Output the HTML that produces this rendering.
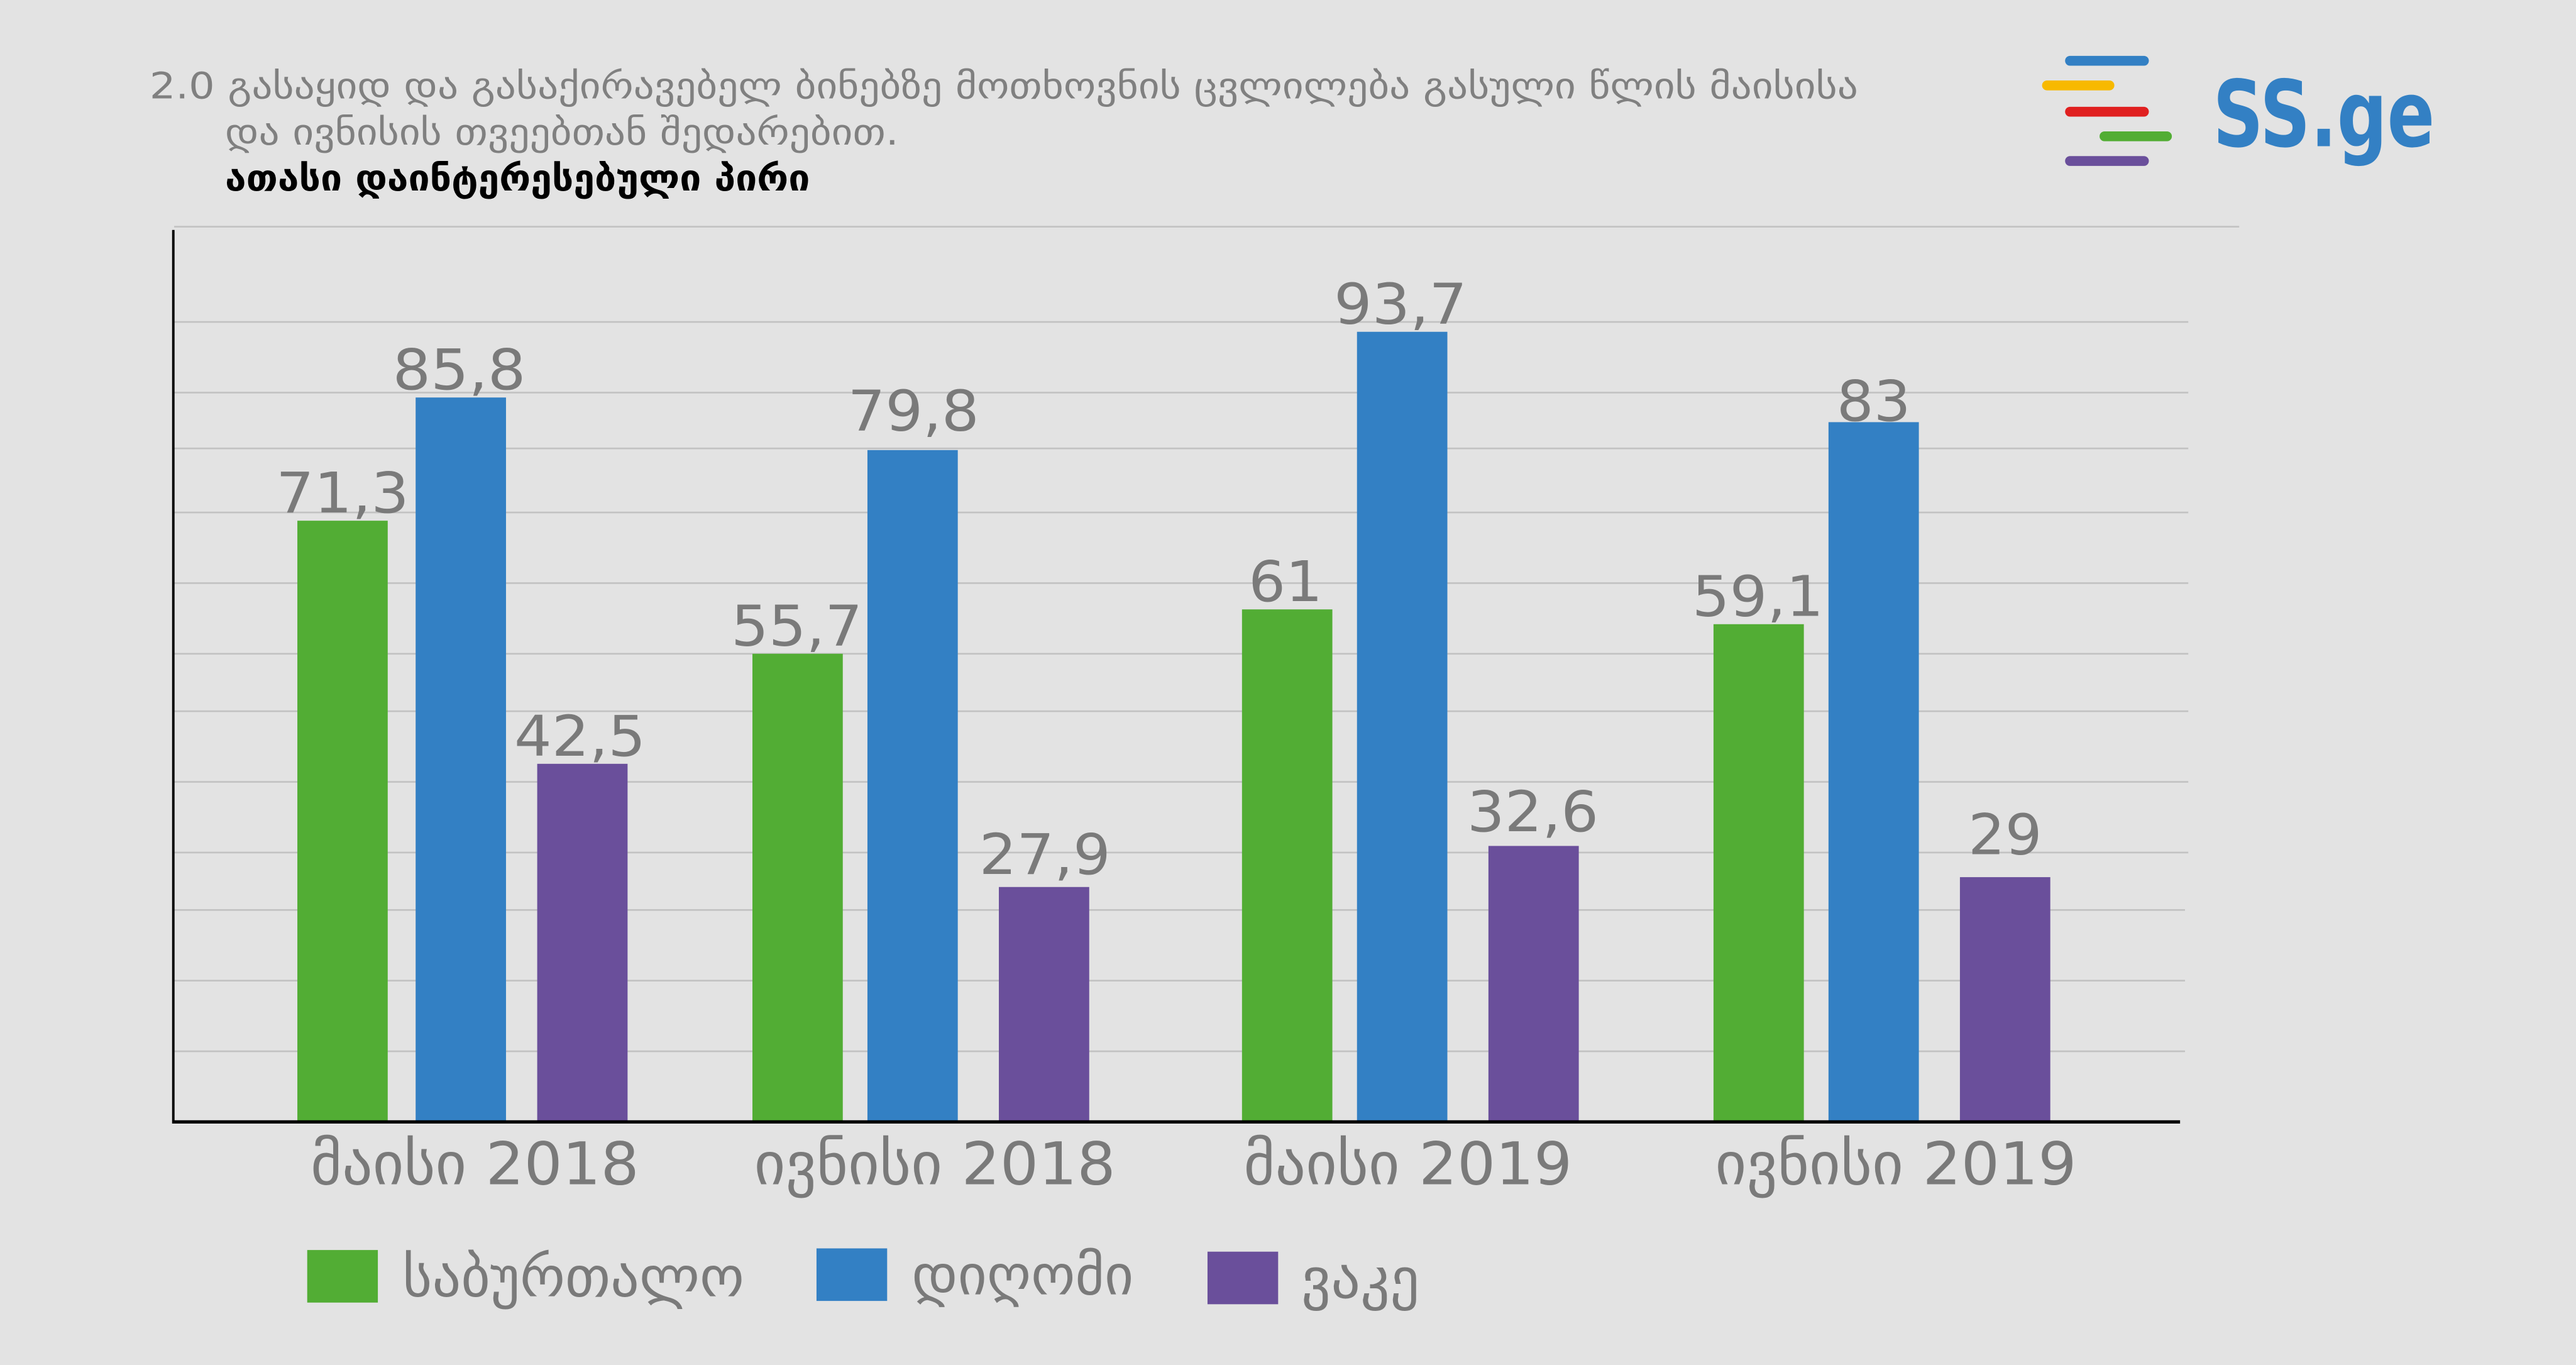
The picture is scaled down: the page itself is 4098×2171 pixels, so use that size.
<!DOCTYPE html>
<html><head><meta charset="utf-8"><style>
html,body{margin:0;padding:0;background:#e3e3e3;}
svg{display:block;}
text{font-family:"DejaVu Sans Condensed","DejaVu Sans","Liberation Sans",sans-serif;}
</style></head><body>
<svg width="4098" height="2171" viewBox="0 0 1568 831" preserveAspectRatio="none" xmlns="http://www.w3.org/2000/svg">
<rect width="1568" height="831" fill="#e3e3e3"/>
<!-- title -->
<text x="91" y="60" font-size="22" fill="#808080" textLength="1040" lengthAdjust="spacingAndGlyphs">2.0 გასაყიდ და გასაქირავებელ ბინებზე მოთხოვნის ცვლილება გასული წლის მაისისა</text>
<text x="137" y="88" font-size="22" fill="#808080" textLength="410" lengthAdjust="spacingAndGlyphs">და ივნისის თვეებთან შედარებით.</text>
<text x="137" y="116" font-size="22" font-weight="bold" fill="#000" textLength="356" lengthAdjust="spacingAndGlyphs">ათასი დაინტერესებული პირი</text>
<!-- logo -->
<g stroke-linecap="round" stroke-width="6">
<line x1="1260" y1="37" x2="1305" y2="37" stroke="#3380c4"/>
<line x1="1246" y1="52" x2="1284" y2="52" stroke="#f7b900"/>
<line x1="1260" y1="68" x2="1305" y2="68" stroke="#e02020"/>
<line x1="1281" y1="83" x2="1319" y2="83" stroke="#52ad34"/>
<line x1="1260" y1="98" x2="1305" y2="98" stroke="#6a4f9b"/>
</g>
<text x="1347" y="89" font-size="56" font-weight="bold" fill="#3380c4" textLength="135" lengthAdjust="spacingAndGlyphs">SS.ge</text>
<!-- grid -->
<g stroke="#c2c2c2" stroke-width="1">
<line x1="106" y1="138" x2="1363" y2="138"/>
<line x1="106" y1="196" x2="1332" y2="196"/>
<line x1="106" y1="239" x2="1332" y2="239"/>
<line x1="106" y1="273" x2="1332" y2="273"/>
<line x1="106" y1="312" x2="1332" y2="312"/>
<line x1="106" y1="355" x2="1332" y2="355"/>
<line x1="106" y1="398" x2="1332" y2="398"/>
<line x1="106" y1="433" x2="1332" y2="433"/>
<line x1="106" y1="476" x2="1332" y2="476"/>
<line x1="106" y1="519" x2="1332" y2="519"/>
<line x1="106" y1="554" x2="1330" y2="554"/>
<line x1="106" y1="597" x2="1330" y2="597"/>
<line x1="106" y1="640" x2="1330" y2="640"/>
</g>
<!-- bars -->
<g>
<rect x="181" y="317" width="55" height="366" fill="#52ad34"/>
<rect x="253" y="242" width="55" height="441" fill="#3380c4"/>
<rect x="327" y="465" width="55" height="218" fill="#6a4f9b"/>
<rect x="458" y="398" width="55" height="285" fill="#52ad34"/>
<rect x="528" y="274" width="55" height="409" fill="#3380c4"/>
<rect x="608" y="540" width="55" height="143" fill="#6a4f9b"/>
<rect x="756" y="371" width="55" height="312" fill="#52ad34"/>
<rect x="826" y="202" width="55" height="481" fill="#3380c4"/>
<rect x="906" y="515" width="55" height="168" fill="#6a4f9b"/>
<rect x="1043" y="380" width="55" height="303" fill="#52ad34"/>
<rect x="1113" y="257" width="55" height="426" fill="#3380c4"/>
<rect x="1193" y="534" width="55" height="149" fill="#6a4f9b"/>
</g>
<!-- axes -->
<line x1="105.5" y1="140" x2="105.5" y2="684" stroke="#000" stroke-width="1.5"/>
<line x1="105" y1="683" x2="1327" y2="683" stroke="#000" stroke-width="2"/>
<!-- value labels -->
<g font-size="34" fill="#7a7a7a">
<text x="168" y="312" textLength="81" lengthAdjust="spacingAndGlyphs">71,3</text>
<text x="239" y="237" textLength="81" lengthAdjust="spacingAndGlyphs">85,8</text>
<text x="313" y="460" textLength="80" lengthAdjust="spacingAndGlyphs">42,5</text>
<text x="445" y="393" textLength="80" lengthAdjust="spacingAndGlyphs">55,7</text>
<text x="516" y="262" textLength="80" lengthAdjust="spacingAndGlyphs">79,8</text>
<text x="596" y="532" textLength="80" lengthAdjust="spacingAndGlyphs">27,9</text>
<text x="760" y="366" textLength="45" lengthAdjust="spacingAndGlyphs">61</text>
<text x="812" y="197" textLength="81" lengthAdjust="spacingAndGlyphs">93,7</text>
<text x="893" y="506" textLength="80" lengthAdjust="spacingAndGlyphs">32,6</text>
<text x="1030" y="375" textLength="80" lengthAdjust="spacingAndGlyphs">59,1</text>
<text x="1118" y="256" textLength="45" lengthAdjust="spacingAndGlyphs">83</text>
<text x="1198" y="520" textLength="45" lengthAdjust="spacingAndGlyphs">29</text>
</g>
<!-- category labels -->
<g font-size="36" fill="#7a7a7a">
<text x="189" y="721" textLength="200" lengthAdjust="spacingAndGlyphs">მაისი 2018</text>
<text x="459" y="721" textLength="220" lengthAdjust="spacingAndGlyphs">ივნისი 2018</text>
<text x="757" y="721" textLength="200" lengthAdjust="spacingAndGlyphs">მაისი 2019</text>
<text x="1044" y="721" textLength="220" lengthAdjust="spacingAndGlyphs">ივნისი 2019</text>
</g>
<!-- legend -->
<rect x="187" y="761" width="43" height="32" fill="#52ad34"/>
<rect x="497" y="760" width="43" height="32" fill="#3380c4"/>
<rect x="735" y="762" width="43" height="32" fill="#6a4f9b"/>
<g font-size="34" fill="#7a7a7a">
<text x="245" y="789" textLength="208" lengthAdjust="spacingAndGlyphs">საბურთალო</text>
<text x="555" y="788" textLength="135" lengthAdjust="spacingAndGlyphs">დიღომი</text>
<text x="792" y="790" textLength="72" lengthAdjust="spacingAndGlyphs">ვაკე</text>
</g>
</svg>
</body></html>
